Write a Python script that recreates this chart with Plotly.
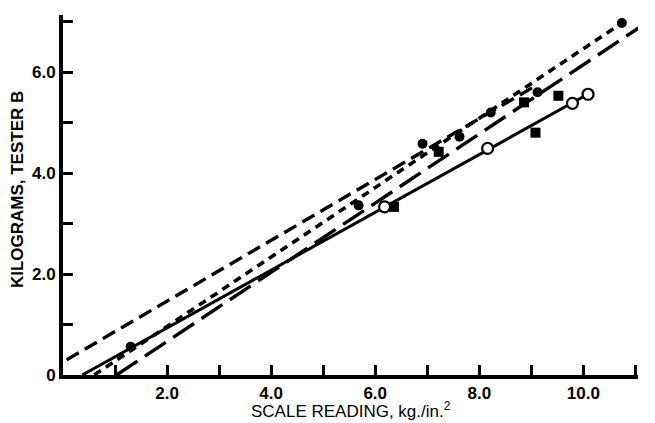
import plotly.graph_objects as go

# fitted lines (end points)
solid_x = [0.37, 10.10]
solid_y = [0.00, 5.57]
meddash_x = [0.07, 9.10]
meddash_y = [0.30, 5.74]
shortdash_x = [0.60, 10.74]
shortdash_y = [0.00, 6.97]
longdash_x = [1.03, 11.35]
longdash_y = [0.00, 7.07]

# data points
open_x = [6.18, 8.16, 9.79, 10.09]
open_y = [3.33, 4.49, 5.38, 5.56]
dot_x = [1.30, 5.68, 6.91, 7.62, 8.22, 9.12, 10.74]
dot_y = [0.56, 3.36, 4.58, 4.72, 5.20, 5.60, 6.97]
sq_x = [6.36, 7.22, 8.86, 9.52, 9.08]
sq_y = [3.33, 4.42, 5.40, 5.53, 4.80]

x_ticks = [1, 2, 3, 4, 5, 6, 7, 8, 9, 10, 11]
x_text = ["", "2.0", "", "4.0", "", "6.0", "", "8.0", "", "10.0", ""]
y_ticks = [0, 1, 2, 3, 4, 5, 6, 7]
y_text = ["0", "", "2.0", "", "4.0", "", "6.0", ""]

fig = go.Figure()
fig.add_trace(go.Scatter(x=meddash_x, y=meddash_y, mode="lines",
                         line=dict(color="black", width=3.4, dash="14px,7px")))
fig.add_trace(go.Scatter(x=shortdash_x, y=shortdash_y, mode="lines",
                         line=dict(color="black", width=3.6, dash="8px,6px")))
fig.add_trace(go.Scatter(x=longdash_x, y=longdash_y, mode="lines",
                         line=dict(color="black", width=3.4, dash="25px,9px")))
fig.add_trace(go.Scatter(x=solid_x, y=solid_y, mode="lines",
                         line=dict(color="black", width=3)))
fig.add_trace(go.Scatter(x=dot_x, y=dot_y, mode="markers",
                         marker=dict(symbol="circle", size=10, color="black")))
fig.add_trace(go.Scatter(x=sq_x, y=sq_y, mode="markers",
                         marker=dict(symbol="square", size=10, color="black")))
fig.add_trace(go.Scatter(x=open_x, y=open_y, mode="markers",
                         marker=dict(symbol="circle", size=11, color="white",
                                     line=dict(color="black", width=2.2))))

tick_font = dict(family="Liberation Sans", size=17, color="black", weight="bold")
fig.update_layout(
    width=655, height=423,
    margin=dict(l=63, r=17, t=15, b=48),
    paper_bgcolor="white", plot_bgcolor="white",
    showlegend=False,
    font=dict(family="Liberation Sans", color="black"),
    xaxis=dict(range=[0, 11.05], showgrid=False, zeroline=False,
               showline=True, linecolor="black", linewidth=4,
               ticks="inside", ticklen=10, tickwidth=3, tickcolor="black",
               tickvals=x_ticks, ticktext=x_text, tickfont=tick_font),
    yaxis=dict(range=[0, 7.13], showgrid=False, zeroline=False,
               showline=True, linecolor="black", linewidth=4,
               ticks="inside", ticklen=10, tickwidth=3, tickcolor="black",
               tickvals=y_ticks, ticktext=y_text, tickfont=tick_font),
    annotations=[
        dict(text="SCALE READING, kg./in.<sup>2</sup>", xref="paper", yref="paper",
             x=0.5, y=-0.097, xanchor="center", yanchor="middle", showarrow=False,
             font=dict(family="Liberation Sans", size=17, color="black")),
        dict(text="<b>KILOGRAMS, TESTER B</b>", xref="paper", yref="paper",
             x=-0.078, y=0.514, xanchor="center", yanchor="middle", showarrow=False,
             textangle=-90,
             font=dict(family="Liberation Sans", size=17, color="black")),
    ],
)
fig.write_html("out.html")
